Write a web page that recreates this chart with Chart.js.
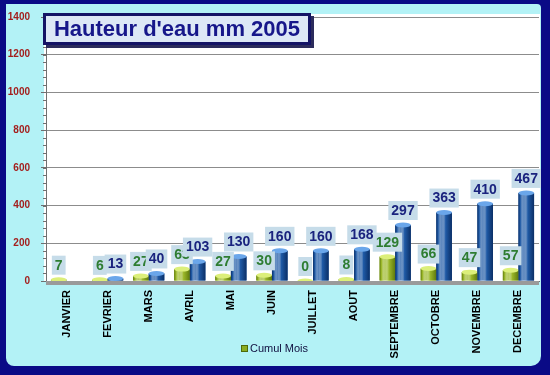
<!DOCTYPE html>
<html>
<head>
<meta charset="utf-8">
<script src="https://cdn.jsdelivr.net/npm/chart.js@4.4.1/dist/chart.umd.min.js"></script>
<style>
  body { margin: 0; background: #0a0a86; width: 550px; height: 375px; overflow: hidden; position: relative; font-family: Arial, "Liberation Sans", sans-serif; }
  #panel { position: absolute; left: 6px; top: 4px; width: 535px; height: 362px; background: #b3f2f6; border-radius: 0 4px 10px 8px; overflow: hidden; }
  #chart { position: absolute; left: -6px; top: -4px; }
  #title { position: absolute; left: 43px; top: 13px; width: 262px; height: 26px; border: 3px solid #141466; background: #dde8f6; box-shadow: 3px 3px 0 #2c2c5c; color: #17178a; font: bold 22px Arial, "Liberation Sans", sans-serif; line-height: 26px; text-align: center; }
  #legend { position: absolute; left: 241px; top: 342px; font: 11px Arial, "Liberation Sans", sans-serif; color: #101040; }
  #legend i { display: inline-block; width: 5px; height: 5px; background: #8aad22; border: 1px solid #4e6a0a; margin-right: 2px; vertical-align: 0; }
</style>
</head>
<body>
<div id="panel"><canvas id="chart" width="550" height="375"></canvas></div>
<div id="title">Hauteur d'eau mm 2005</div>
<div id="legend"><i></i>Cumul Mois</div>
<script>
// months (categories)
var mois = ['JANVIER', 'FEVRIER', 'MARS', 'AVRIL', 'MAI', 'JUIN', 'JUILLET', 'AOUT', 'SEPTEMBRE', 'OCTOBRE', 'NOVEMBRE', 'DECEMBRE'];
// rain of the month, mm
var cumulMois = [7, 6, 27, 63, 27, 30, 0, 8, 129, 66, 47, 57];
// running total, mm (no bar shown for january)
var cumulAnnee = [null, 13, 40, 103, 130, 160, 160, 168, 297, 363, 410, 467];
// y axis
var yMax = 1400;
var yStep = 200;
var yMinor = 40;

var colors = {
  green: '#9cb82a',
  greenEdge: '#5f7a0c',
  greenTop: '#dcef7a',
  greenText: '#2e7d32',
  blue: '#1f5aa6',
  blueEdge: '#0b2f66',
  blueTop: '#6aa6ea',
  blueText: '#1a237e',
  labelBox: '#c6dce9',
  grid: '#8c8c8c',
  tickText: '#a3201e'
};

// white back wall, floor and minor ticks
var wallPlugin = {
  id: 'wall',
  beforeDraw: function(chart) {
    var a = chart.chartArea, ctx = chart.ctx;
    ctx.save();
    ctx.fillStyle = '#ffffff';
    ctx.fillRect(a.left - 2, a.top - 3, a.right - a.left + 3, a.bottom - a.top + 3);
    ctx.restore();
  },
  afterDraw: function(chart) {
    var a = chart.chartArea, ctx = chart.ctx, y = chart.scales.y;
    ctx.save();
    ctx.fillStyle = '#9a9a9a';
    ctx.fillRect(a.left, a.bottom, a.right - a.left, 4);
    ctx.strokeStyle = '#707070';
    ctx.lineWidth = 1;
    ctx.beginPath();
    for (var v = 0; v <= yMax; v += yMinor) {
      var py = Math.round(y.getPixelForValue(v)) + 0.5;
      ctx.moveTo(a.left - 3, py);
      ctx.lineTo(a.left, py);
    }
    ctx.stroke();
    ctx.restore();
  }
};

// cylinder shading on top of the flat bars
var shadePlugin = {
  id: 'shade',
  afterDatasetsDraw: function(chart) {
    var ctx = chart.ctx;
    chart.data.datasets.forEach(function(ds, i) {
      var meta = chart.getDatasetMeta(i);
      meta.data.forEach(function(el, j) {
        if (ds.data[j] === null) return;
        var w = el.width, x0 = el.x - w / 2, top = el.y, base = el.base;
        ctx.save();
        var g = ctx.createLinearGradient(x0, 0, x0 + w, 0);
        g.addColorStop(0, ds.edge);
        g.addColorStop(0.12, ds.backgroundColor);
        g.addColorStop(0.35, 'rgba(255,255,255,0.25)');
        g.addColorStop(0.6, ds.backgroundColor);
        g.addColorStop(1, ds.edge);
        ctx.fillStyle = g;
        ctx.fillRect(x0, top, w, base - top);
        ctx.fillStyle = ds.top;
        ctx.beginPath();
        ctx.ellipse(el.x, top, w / 2, 2.5, 0, 0, Math.PI * 2);
        ctx.fill();
        ctx.restore();
      });
    });
  }
};

// value boxes above the bars
var labelPlugin = {
  id: 'valueLabels',
  afterDatasetsDraw: function(chart) {
    var ctx = chart.ctx;
    ctx.save();
    ctx.font = 'bold 14px Arial, "Liberation Sans", sans-serif';
    ctx.textAlign = 'center';
    ctx.textBaseline = 'middle';
    chart.data.datasets.forEach(function(ds, i) {
      var meta = chart.getDatasetMeta(i);
      meta.data.forEach(function(el, j) {
        var v = ds.data[j];
        if (v === null) return;
        var txt = String(v);
        var tw = ctx.measureText(txt).width + 6;
        var cy = el.y - 15;
        ctx.fillStyle = colors.labelBox;
        ctx.fillRect(el.x - tw / 2, cy - 9, tw, 19);
        ctx.fillStyle = ds.textColor;
        ctx.fillText(txt, el.x, cy + 1);
      });
    });
    ctx.restore();
  }
};

var ctx = document.getElementById('chart').getContext('2d');
var chart = new Chart(ctx, {
  type: 'bar',
  data: {
    labels: mois,
    datasets: [{
      label: 'Cumul Mois',
      data: cumulMois,
      backgroundColor: colors.green,
      edge: colors.greenEdge,
      top: colors.greenTop,
      textColor: colors.greenText,
      categoryPercentage: 0.76,
      barPercentage: 1
    }, {
      label: 'Cumul',
      data: cumulAnnee,
      backgroundColor: colors.blue,
      edge: colors.blueEdge,
      top: colors.blueTop,
      textColor: colors.blueText,
      categoryPercentage: 0.76,
      barPercentage: 1
    }]
  },
  options: {
    responsive: false,
    animation: false,
    layout: { padding: { left: 0, right: 11, top: 12, bottom: 0 } },
    plugins: {
      legend: { display: false },
      title: { display: false },
      tooltip: { enabled: false }
    },
    scales: {
      x: {
        grid: { display: false, drawTicks: false },
        border: { display: true, color: '#707070' },
        ticks: {
          minRotation: 90,
          maxRotation: 90,
          autoSkip: false,
          padding: 9,
          color: '#000000',
          font: { family: 'Arial, "Liberation Sans", sans-serif', size: 11, weight: 'bold' }
        },
        afterFit: function(s) { s.height = 94; }
      },
      y: {
        min: 0,
        max: yMax,
        grid: { color: colors.grid, tickLength: 5, tickColor: '#707070' },
        border: { display: true, color: '#707070' },
        ticks: {
          stepSize: yStep,
          padding: 11,
          color: colors.tickText,
          font: { family: 'Arial, "Liberation Sans", sans-serif', size: 10, weight: 'bold' },
          callback: function(v) { return String(v); }
        },
        afterFit: function(s) { s.width = 46; }
      }
    }
  },
  plugins: [wallPlugin, shadePlugin, labelPlugin]
});
</script>
</body>
</html>
